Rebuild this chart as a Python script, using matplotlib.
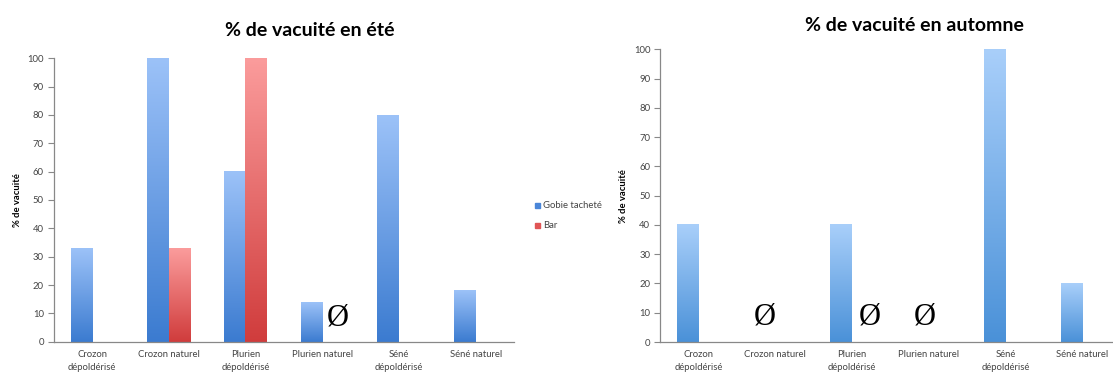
import numpy as np
import matplotlib.pyplot as plt
from matplotlib.colors import LinearSegmentedColormap

plt.rcParams['font.family'] = ['Lato', 'DejaVu Sans']

categories = ['Crozon\ndépoldérisé', 'Crozon naturel', 'Plurien\ndépoldérisé',
              'Plurien naturel', 'Séné\ndépoldérisé', 'Séné naturel']

# été
ete_gobie = [33, 100, 60, 14, 80, 18]
ete_bar = [0, 33, 100, 0, 0, 0]
# automne
aut_gobie = [40, 0, 40, 0, 100, 20]
aut_bar = [0, 0, 0, 0, 0, 0]

# positions of the empty-sample sign (category index, offset inside group)
ete_vide = [(3, 0.2)]
aut_vide = [(1, -0.14), (2, 0.23), (3, -0.05)]

yticks = list(range(0, 101, 10))

blue_cmap = LinearSegmentedColormap.from_list('b', ['#3b7bd0', '#9cc2f8'])
blue2_cmap = LinearSegmentedColormap.from_list('b2', ['#4a91d8', '#a9cffa'])
red_cmap = LinearSegmentedColormap.from_list('r', ['#d03c3c', '#fb9c9c'])

width = 0.28
grad = np.linspace(0, 1, 256).reshape(-1, 1)


def gradient_bars(ax, x, vals, cmap):
    bars = ax.bar(x, vals, width, color='none', edgecolor='none')
    for b, v in zip(bars, vals):
        if v <= 0:
            continue
        x0 = b.get_x()
        ax.imshow(grad, cmap=cmap, origin='lower', aspect='auto',
                  extent=(x0, x0 + width, 0, v), zorder=2, interpolation='bicubic')
    return bars


def style(ax, title, title_x, title_y):
    ax.set_xlim(-0.5, len(categories) - 0.5)
    ax.set_ylim(0, 100)
    ax.set_yticks(yticks)
    ax.tick_params(axis='y', labelsize=6.8, colors='#888888', labelcolor='#444444',
                   length=4, width=0.8, pad=3)
    ax.tick_params(axis='x', length=0, labelsize=6.8, labelcolor='#444444', pad=6)
    ax.set_xticks(range(len(categories)))
    ax.set_xticklabels(categories, linespacing=1.5)
    for s in ['top', 'right']:
        ax.spines[s].set_visible(False)
    for s in ['left', 'bottom']:
        ax.spines[s].set_color('#888888')
        ax.spines[s].set_linewidth(0.9)
    ax.set_ylabel('% de vacuité', fontsize=6.8, fontweight='bold', labelpad=4)
    ax.set_title(title, fontsize=14, fontweight='bold', x=title_x, y=title_y)


fig = plt.figure(figsize=(11.13, 3.76), dpi=100)

x = np.arange(len(categories))

ax1 = fig.add_axes([0.0482, 0.0912, 0.4137, 0.754])
gradient_bars(ax1, x - width / 2, ete_gobie, blue_cmap)
gradient_bars(ax1, x + width / 2, ete_bar, red_cmap)
style(ax1, '% de vacuité en été', 0.556, 1.05)
for i, off in ete_vide:
    ax1.text(i + off, 8.5, 'Ø', family='Liberation Serif', fontsize=22,
             ha='center', va='center')

# legend
fig.patches.append(plt.Rectangle((535 / 1113, 1 - 208 / 376), 5 / 1113, 5 / 376,
                                 color='#4a86d8', transform=fig.transFigure))
fig.patches.append(plt.Rectangle((535 / 1113, 1 - 228 / 376), 5 / 1113, 5 / 376,
                                 color='#e05555', transform=fig.transFigure))
fig.text(543 / 1113, 1 - 205 / 376, 'Gobie tacheté', fontsize=6.8, color='#444444', va='center')
fig.text(543 / 1113, 1 - 225 / 376, 'Bar', fontsize=6.8, color='#444444', va='center')

ax2 = fig.add_axes([0.593, 0.0904, 0.414, 0.7785])
gradient_bars(ax2, x - width / 2, aut_gobie, blue2_cmap)
gradient_bars(ax2, x + width / 2, aut_bar, red_cmap)
style(ax2, '% de vacuité en automne', 0.553, 1.035)
for i, off in aut_vide:
    ax2.text(i + off, 8.5, 'Ø', family='Liberation Serif', fontsize=22,
             ha='center', va='center')

fig.savefig('out.png', dpi=100)
